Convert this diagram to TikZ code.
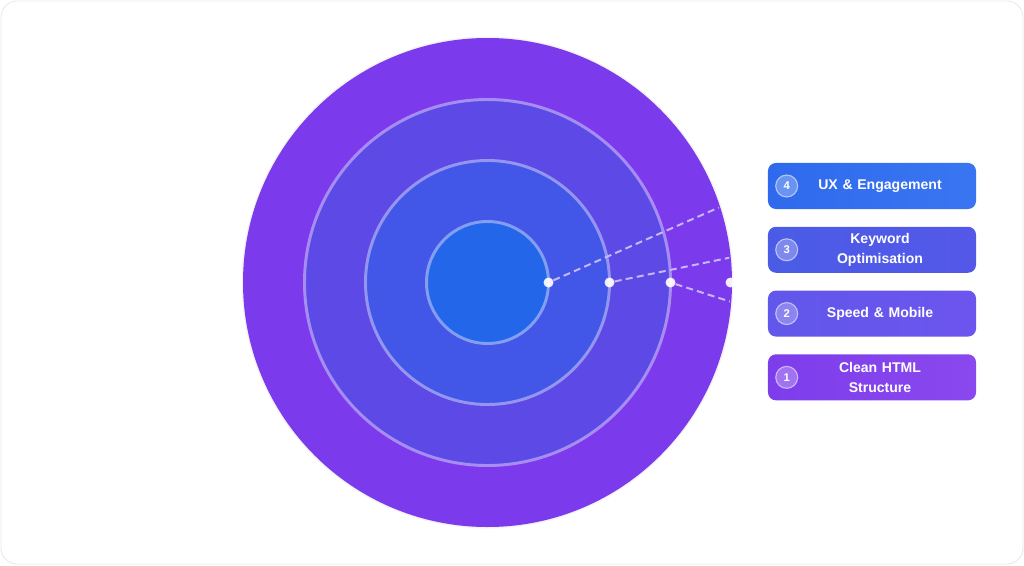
\documentclass[tikz,border=0pt]{standalone}
\usepackage{fontspec}
\setmainfont{Liberation Sans}
\usetikzlibrary{positioning}

\definecolor{ringout}{HTML}{7C3AED}
\definecolor{ringtwo}{HTML}{5D4AE6}
\definecolor{ringthree}{HTML}{4256E8}
\definecolor{ringcore}{HTML}{2366EA}
\definecolor{lav}{HTML}{C7B8FB}

\begin{document}
\begin{tikzpicture}[
    x=0.025cm, y=0.025cm,
    ring/.style={draw=white, draw opacity=0.4, line width=2.1pt},
    item/.style={rectangle, rounded corners=0.2cm, minimum width=5.2cm, minimum height=1.15cm, inner sep=0pt},
    num/.style={circle, minimum size=0.55cm, inner sep=0pt, fill=white, fill opacity=0.28, draw=white, draw opacity=0.55, text opacity=1, line width=0.8pt, text=white, font=\fontsize{8}{9}\selectfont\bfseries},
    txt/.style={text width=3.4cm, align=center, inner sep=0pt, text=white, font=\fontsize{10}{14.5}\selectfont\bfseries},
    link/.style={draw=lav, line width=1.4pt, dash pattern=on 5pt off 3pt},
    dot/.style={circle, fill=white, fill opacity=0.92, minimum size=0.25cm, inner sep=0pt}
]
\useasboundingbox (0,0) rectangle (1024,-565);

% Frame
\draw[black!9, line width=0.6pt, rounded corners=0.4cm] (1,-1) rectangle (1023,-564);

% Target rings
\coordinate (c) at (487.5,-282.5);
\fill[black!5] (c) circle (246);
\fill[ringout] (c) circle (244.5);
\draw[ring, fill=ringtwo] (c) circle (183);
\draw[ring, fill=ringthree] (c) circle (122);
\draw[ring, fill=ringcore] (c) circle (61);

% Layer boxes
\node[item, left color={rgb,255:red,47;green,106;blue,238}, right color={rgb,255:red,58;green,117;blue,241}] (ux) at (872,-186) {};
\node[item, left color={rgb,255:red,74;green,92;blue,230}, right color={rgb,255:red,84;green,88;blue,233}, below=0.43cm of ux] (kw) {};
\node[item, left color={rgb,255:red,97;green,87;blue,234}, right color={rgb,255:red,108;green,85;blue,238}, below=0.43cm of kw] (sm) {};
\node[item, left color={rgb,255:red,125;green,61;blue,235}, right color={rgb,255:red,138;green,72;blue,238}, below=0.43cm of sm] (html) {};

% Box numbers
\node[num] (n4) at ([xshift=0.475cm]ux.west) {4};
\node[num] (n3) at ([xshift=0.475cm]kw.west) {3};
\node[num] (n2) at ([xshift=0.475cm]sm.west) {2};
\node[num] (n1) at ([xshift=0.475cm]html.west) {1};

% Box texts
\node[txt] (t4) at ([xshift=0.2cm]ux.center) {UX \& Engagement};
\node[txt] (t3) at ([xshift=0.2cm]kw.center) {Keyword\\Optimisation};
\node[txt] (t2) at ([xshift=0.2cm]sm.center) {Speed \& Mobile};
\node[txt] (t1) at ([xshift=0.2cm]html.center) {Clean HTML\\Structure};

% Ring dots
\node[dot] (d1) at (548.5,-282.5) {};
\node[dot] (d2) at (609.5,-282.5) {};
\node[dot] (d3) at (670.5,-282.5) {};
\node[dot] (d4) at (730.5,-282.5) {};

% Dashed links, cut at the outer ring
\begin{scope}
\clip (c) circle (243);
\draw[link] (d1) -- (ux.west);
\draw[link] (d2) -- (kw.west);
\draw[link] (d3) -- (sm.west);
\end{scope}

\end{tikzpicture}
\end{document}
